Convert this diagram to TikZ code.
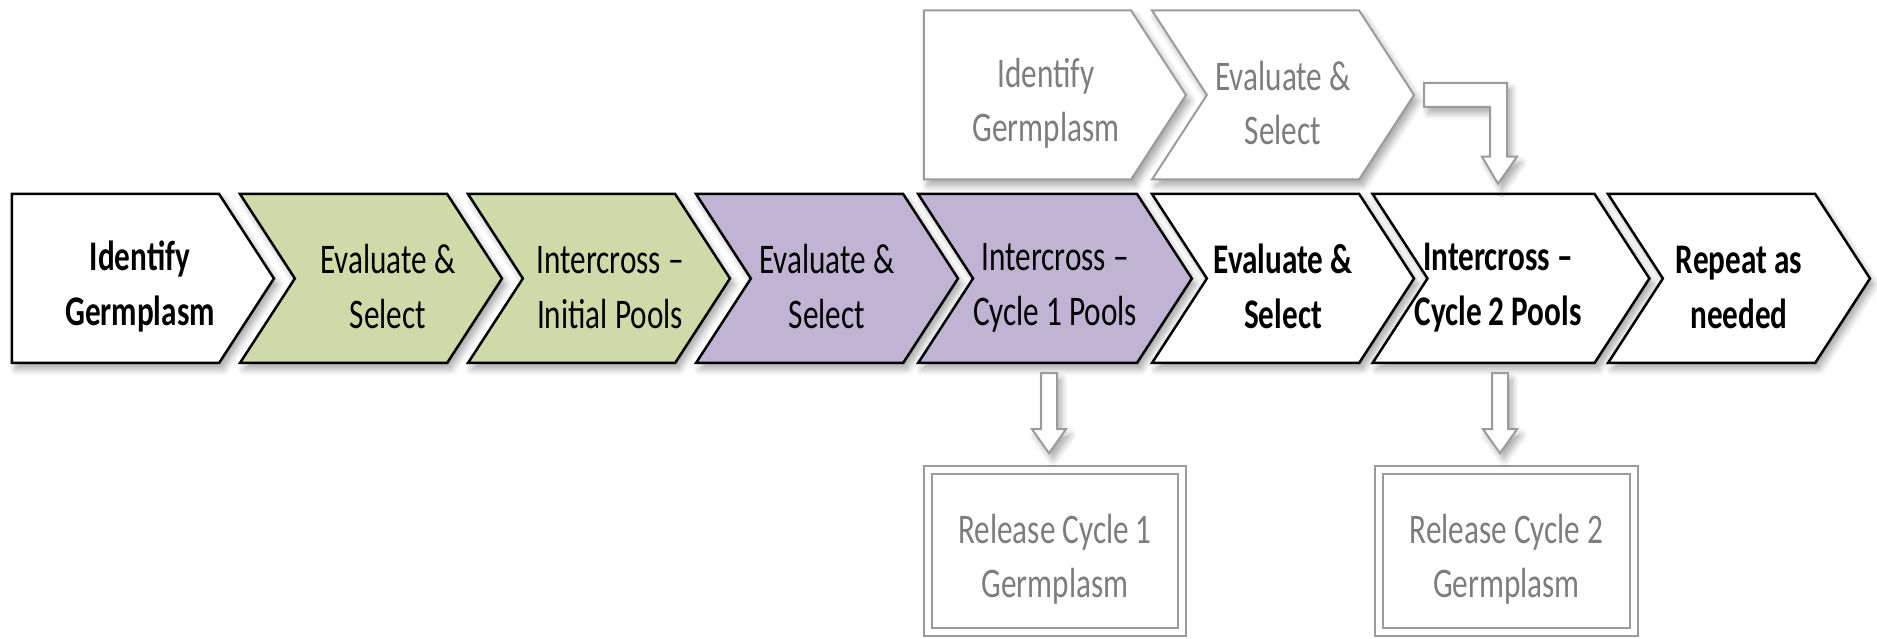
\documentclass[tikz,border=0pt]{standalone}
\usepackage{fontspec}
\setmainfont{Carlito}[FakeStretch=0.74]
\usepackage{tikz}
\usetikzlibrary{positioning,calc,shapes.symbols,shadows.blur}

\definecolor{stepgreen}{RGB}{206,219,168}
\definecolor{steppurple}{RGB}{192,179,211}
\definecolor{fadeline}{RGB}{155,155,155}
\definecolor{fadetext}{RGB}{125,125,125}

% two centred lines, moved right by #1 without widening the box
\newcommand{\twolines}[3][0mm]{\hspace*{#1}\rule{0pt}{13pt}#2\hspace*{-#1}\\\hspace*{#1}#3\hspace*{-#1}}

\tikzset{
  softshadow/.style = {blur shadow={shadow xshift=0.4mm, shadow yshift=-0.6mm,
      shadow blur steps=6, shadow opacity=35}},
  chev/.style = {signal, signal to=east, signal from=west, signal pointer angle=114,
      draw, line width=0.25mm, fill=white, inner sep=0pt,
      minimum width=26.2mm, minimum height=16.9mm, align=center,
      font=\fontsize{12pt}{15.5pt}\selectfont, softshadow},
  startchev/.style = {signal from=nowhere},
  boldchev/.style = {font=\fontsize{12pt}{15.5pt}\selectfont\bfseries},
  faded/.style = {draw=fadeline, line width=0.2mm, text=fadetext},
  release/.style = {rectangle, draw=fadeline, line width=0.2mm, double, double distance=0.6mm,
      minimum width=25.45mm, minimum height=16.15mm, inner sep=0pt, align=center,
      text=fadetext, font=\fontsize{12pt}{15.5pt}\selectfont},
  blockarrow/.style = {draw=fadeline, line width=0.2mm, fill=white, softshadow}
}

\begin{document}
\begin{tikzpicture}[node distance=22.8mm, on grid]
    \useasboundingbox (0,0) rectangle (187.7mm,63.9mm);

    % main row
    \node (c1) [chev, startchev, boldchev] at (11.55mm,36.05mm) {\twolines[2.45mm]{Identify}{Germplasm}};
    \node (c2) [chev, fill=stepgreen, right=25.55mm of c1] {\twolines[1.7mm]{Evaluate \&}{Select}};
    \node (c3) [chev, fill=stepgreen, right=of c2] {\twolines[1.1mm]{Intercross –}{Initial Pools}};
    \node (c4) [chev, fill=steppurple, right=of c3] {\twolines{Evaluate \&}{Select}};
    \node (c5) [chev, fill=steppurple, right=of c4] {\twolines{Intercross –}{Cycle 1 Pools}};
    \node (c6) [chev, boldchev, right=of c5] {\twolines{Evaluate \&}{Select}};
    \node (c7) [chev, boldchev, right=of c6] {\twolines[-1.3mm]{Intercross –}{Cycle 2 Pools}};
    \node (c8) [chev, boldchev, right=of c7] {\twolines{Repeat as}{needed}};

    % second entry above
    \node (gI) [chev, startchev, faded, above=18.35mm of c5, xshift=-2.75mm] {\twolines[1.85mm]{Identify}{Germplasm}};
    \node (gE) [chev, faded, right=25.55mm of gI] {\twolines{Evaluate \&}{Select}};

    % releases
    \node (rel1) [release, below=27.25mm of c5] {\twolines{Release Cycle 1}{Germplasm}};
    \node (rel2) [release, below=27.25mm of c7, xshift=-0.45mm] {\twolines{Release Cycle 2}{Germplasm}};

    % block arrows
    \coordinate (tip1) at ([shift={(-0.6mm,1.6mm)}]rel1.north);
    \draw[blockarrow] (tip1) -- ++(1.7mm,2.4mm) -- ++(-0.9mm,0)
        -- ($(tip1 |- c5.south)+(0.8mm,-0.9mm)$) -- ++(-1.6mm,0)
        |- ($(tip1)+(-1.7mm,2.4mm)$) -- cycle;
    \coordinate (tip2) at ([shift={(-0.65mm,1.6mm)}]rel2.north);
    \draw[blockarrow] (tip2) -- ++(1.7mm,2.4mm) -- ++(-0.9mm,0)
        -- ($(tip2 |- c7.south)+(0.8mm,-0.9mm)$) -- ++(-1.6mm,0)
        |- ($(tip2)+(-1.7mm,2.4mm)$) -- cycle;

    \coordinate (bendS) at ($(gE.east)+(0.9mm,0)$);
    \coordinate (bendT) at ($(c7.north)+(-1.3mm,0.9mm)$);
    \draw[blockarrow] ([yshift=1.2mm]bendS) -| ([shift={(0.9mm,2.7mm)}]bendT)
        -- ++(1mm,0) -- (bendT) -- ++(-1.6mm,2.7mm) -- ++(0.8mm,0)
        |- ([yshift=-1.2mm]bendS) -- cycle;
\end{tikzpicture}
\end{document}
